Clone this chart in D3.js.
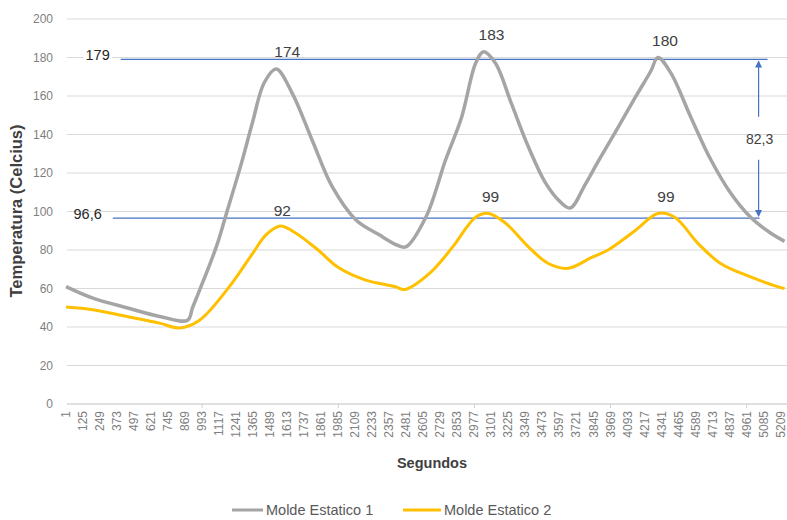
<!DOCTYPE html>
<html><head><meta charset="utf-8">
<script src="https://cdn.jsdelivr.net/npm/d3@7/dist/d3.min.js"></script>
<style>body{margin:0;background:#fff;}svg{display:block;font-family:"Liberation Sans",Arial,sans-serif;}</style>
</head><body><svg id="c" width="787" height="520"></svg>
<script>
const seriesNames = ["Molde Estatico 1", "Molde Estatico 2"];
const seconds1 = [1,197,444,684,887,923,974,1098,1170,1279,1359,1446,1533,1649,1795,1940,2114,2281,2412,2477,2623,2768,2884,2986,3044,3131,3247,3371,3494,3603,3676,3784,3879,4002,4147,4263,4314,4408,4554,4699,4844,4990,5135,5237];
const temp1    = [61,55,50,45.5,43.5,50,59,82,99,125,146,167,174,161.5,137,113,95.6,88,82.6,81.6,97,127,149,177,183,177,156,133.5,115,105,101.8,114,126,141,159,173,180,172,149,127,109.6,97,88.8,84.5];
const seconds2 = [1,197,444,684,829,974,1192,1359,1460,1562,1671,1838,1983,2179,2397,2470,2652,2819,2986,3080,3203,3371,3516,3661,3828,3951,4147,4314,4437,4604,4771,4990,5186,5237];
const temp2    = [50.4,49,45.5,42,39.5,43.5,61,78,88,92.5,89,80,71,64.5,61,59.5,68,81.6,97,99,94,81.6,73,70.5,76,80,90,99,97,83.6,73,66,61,60];
const yTicks = [0,20,40,60,80,100,120,140,160,180,200];
const xTickLabels = [1,125,249,373,497,621,745,869,993,1117,1241,1365,1489,1613,1737,1861,1985,2109,2233,2357,2481,2605,2729,2853,2977,3101,3225,3349,3473,3597,3721,3845,3969,4093,4217,4341,4465,4589,4713,4837,4961,5085,5209];
const xMajorTicks = [993,1985,2977,3969,4961];
const peakSeconds1 = [1613,3102,4366];
const peakValues1 = [174,183,180];
const peakSeconds2 = [1577,3095,4373];
const peakValues2 = [92,99,99];
const refValues = [179, 96.6];
const refLabels = ["179", "96,6"];
const refStart = [400, 342];
const refEnd = [5113, 5055];
const diffLabel = "82,3";
const diffSecond = 5048;
const colors = ["#a5a5a5", "#ffc000"];

const svg = d3.select("#c");
const x = d3.scaleLinear().domain([1, 5255]).range([66, 787]);
const y = d3.scaleLinear().domain([0, 200]).range([404, 19]);

// gridlines
svg.append("g").selectAll("line").data(yTicks.filter(d=>d>0)).join("line")
  .attr("x1", 67).attr("x2", 787).attr("y1", d=>y(d)).attr("y2", d=>y(d))
  .attr("stroke", "#d9d9d9").attr("stroke-width", 1);
svg.append("line").attr("x1", 67).attr("x2", 787).attr("y1", y(0)).attr("y2", y(0))
  .attr("stroke", "#bfbfbf").attr("stroke-width", 1);
svg.append("g").selectAll("line").data(xMajorTicks).join("line")
  .attr("x1", d=>x(d)).attr("x2", d=>x(d)).attr("y1", y(0)).attr("y2", y(0)+4)
  .attr("stroke", "#d0d0d0");

// y tick labels
svg.append("g").selectAll("text").data(yTicks).join("text")
  .attr("x", 53).attr("y", d=>y(d)+4).attr("text-anchor", "end")
  .attr("font-size", 12).attr("fill", "#808080").text(d=>d);

// x tick labels
svg.append("g").selectAll("text").data(xTickLabels).join("text")
  .attr("transform", d=>`translate(${x(d)+4},${y(0)+7}) rotate(-90)`)
  .attr("text-anchor", "end").attr("font-size", 12).attr("fill", "#808080").text(d=>d);

// axis titles
svg.append("text").attr("transform", "translate(22,211) rotate(-90)").attr("text-anchor", "middle")
  .attr("font-size", 16.5).attr("font-weight", "bold").attr("fill", "#404040").text("Temperatura (Celcius)");
svg.append("text").attr("x", 432).attr("y", 468).attr("text-anchor", "middle")
  .attr("font-size", 14.5).attr("font-weight", "bold").attr("fill", "#404040").text("Segundos");

// reference lines
refValues.forEach((v,i)=>{
  svg.append("line").attr("x1", x(refStart[i])).attr("x2", x(refEnd[i])).attr("y1", y(v)).attr("y2", y(v))
    .attr("stroke", "#4472c4").attr("stroke-width", 1.2);
});

// series lines
const line = d3.line().x(d=>x(d[0])).y(d=>y(d[1])).curve(d3.curveCatmullRom.alpha(0.5));
const data1 = seconds1.map((s,i)=>[s, temp1[i]]);
const data2 = seconds2.map((s,i)=>[s, temp2[i]]);
svg.append("path").datum(data2).attr("d", line).attr("fill", "none")
  .attr("stroke", colors[1]).attr("stroke-width", 3).attr("stroke-linejoin", "round");
svg.append("path").datum(data1).attr("d", line).attr("fill", "none")
  .attr("stroke", colors[0]).attr("stroke-width", 3.5).attr("stroke-linejoin", "round");

// ref labels with white background
refValues.forEach((v,i)=>{
  const g = svg.append("g");
  const r = g.append("rect").attr("fill", "#fff");
  const t = g.append("text").attr("x", x(refStart[i]) - 11).attr("y", y(v) + 1)
    .attr("text-anchor", "end").attr("font-size", 14.5).attr("fill", "#262626").text(refLabels[i]);
  const bb = t.node().getBBox();
  r.attr("x", bb.x - 2).attr("y", y(v) - 6).attr("width", bb.width + 4).attr("height", 10);
});

// peak labels
const peaks = peakSeconds1.map((s,i)=>[s, peakValues1[i], 12]).concat(peakSeconds2.map((s,i)=>[s, peakValues2[i], 11]));
svg.append("g").selectAll("text").data(peaks).join("text")
  .attr("x", d=>x(d[0])).attr("y", d=>y(d[1]) - d[2]).attr("text-anchor", "middle")
  .attr("font-size", 15.5).attr("fill", "#404040").text(d=>d[1]);

// difference arrow
const ax = x(diffSecond);
const midY = (y(refValues[0]) + y(refValues[1])) / 2;
svg.append("line").attr("x1", ax).attr("x2", ax).attr("y1", y(refValues[0]) + 2).attr("y2", midY - 22).attr("stroke", "#4472c4").attr("stroke-width", 1.2);
svg.append("line").attr("x1", ax).attr("x2", ax).attr("y1", midY + 21).attr("y2", y(refValues[1]) - 2).attr("stroke", "#4472c4").attr("stroke-width", 1.2);
svg.append("path").attr("d", `M${ax},${y(refValues[0])+1} l-3.5,7 l7,0 z`).attr("fill", "#4472c4");
svg.append("path").attr("d", `M${ax},${y(refValues[1])-1} l-3.5,-7 l7,0 z`).attr("fill", "#4472c4");
svg.append("text").attr("x", ax + 1).attr("y", midY + 5).attr("text-anchor", "middle")
  .attr("font-size", 14).attr("fill", "#404040").text(diffLabel);

// legend
const leg = [[232, 263, 266], [403, 441, 444]];
seriesNames.forEach((n,i)=>{
  svg.append("line").attr("x1", leg[i][0]).attr("x2", leg[i][1]).attr("y1", 510).attr("y2", 510)
    .attr("stroke", colors[i]).attr("stroke-width", 3);
  svg.append("text").attr("x", leg[i][2]).attr("y", 515).attr("font-size", 14.5).attr("fill", "#595959").text(n);
});
</script></body></html>
